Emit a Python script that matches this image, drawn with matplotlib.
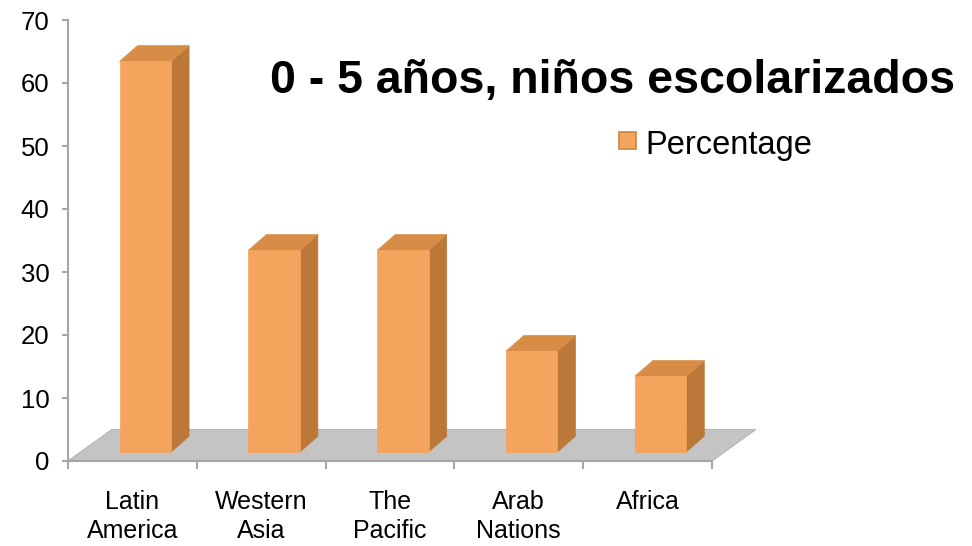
"""
Pseudo-3D column chart: share of children aged 0-5 in school, by region.
"""

import matplotlib
matplotlib.use("Agg")
import matplotlib.pyplot as plt
from matplotlib.patches import Polygon, Rectangle

# ---------------------------------------------------------------------------
# Data
# ---------------------------------------------------------------------------
regions = ["Latin\nAmerica", "Western\nAsia", "The\nPacific", "Arab\nNations", "Africa"]
percentage = [62, 32, 32, 16, 12]
y_ticks = [0, 10, 20, 30, 40, 50, 60, 70]
title = "0 - 5 años, niños escolarizados"
series_name = "Percentage"

# ---------------------------------------------------------------------------
# Style
# ---------------------------------------------------------------------------
FRONT = "#F4A45C"
SIDE = "#BC7839"
TOP = "#D88D47"
FLOOR = "#C4C4C4"
AXIS = "#A6A6A6"

# floor depth and bar geometry, in data units
FLOOR_DX, FLOOR_DY = 0.34, 5.0
BASE_DX, BASE_DY = 0.10, 1.43      # where bars stand on the floor
BAR_W = 0.40
BAR_DX, BAR_DY = 0.14, 2.5

plt.rcParams["font.family"] = ["Liberation Sans", "DejaVu Sans"]

fig = plt.figure(figsize=(9.72, 5.46), dpi=100)
ax = fig.add_axes([68 / 972, (546 - 461) / 546, 644 / 972, 441 / 546])
ax.set_xlim(0, len(regions))
ax.set_ylim(0, 70)

# floor
n = len(regions)
floor = Polygon([(0, 0), (n, 0), (n + FLOOR_DX, FLOOR_DY), (FLOOR_DX, FLOOR_DY)],
                closed=True, facecolor=FLOOR, edgecolor="#B4B4B4", lw=0.8,
                clip_on=False, zorder=1)
ax.add_patch(floor)

# bars, drawn as three faces each
for i, v in enumerate(percentage):
    x0 = i + 0.5 - BAR_W / 2 + BASE_DX
    x1 = x0 + BAR_W
    y0 = BASE_DY
    y1 = BASE_DY + v
    side = [(x1, y0), (x1 + BAR_DX, y0 + BAR_DY), (x1 + BAR_DX, y1 + BAR_DY), (x1, y1)]
    top = [(x0, y1), (x1, y1), (x1 + BAR_DX, y1 + BAR_DY), (x0 + BAR_DX, y1 + BAR_DY)]
    front = [(x0, y0), (x1, y0), (x1, y1), (x0, y1)]
    for pts, col in ((side, SIDE), (top, TOP), (front, FRONT)):
        ax.add_patch(Polygon(pts, closed=True, facecolor=col, edgecolor=col,
                             lw=0.5, clip_on=False, zorder=2 + i))

# axes styling
for s in ("top", "right"):
    ax.spines[s].set_visible(False)
for s in ("left", "bottom"):
    ax.spines[s].set_color(AXIS)
    ax.spines[s].set_linewidth(1.5)

ax.set_yticks(y_ticks)
ax.tick_params(axis="y", length=4.5, width=1.5, color=AXIS, pad=9, labelsize=18.5)

centers = [i + 0.5 for i in range(n)]
ax.set_xticks(centers)
ax.set_xticklabels(regions, fontsize=18, linespacing=1.25)
ax.set_xticks(range(n + 1), minor=True)
ax.tick_params(axis="x", which="major", length=0, pad=21)
ax.tick_params(axis="x", which="minor", length=5.5, width=1.5, color=AXIS)

# title and legend
fig.text(270 / 972, 1 - 93 / 546, title, fontsize=33.5, fontweight="bold",
         ha="left", va="baseline")
fig.patches.append(Rectangle((619 / 972, 1 - 149 / 546), 17 / 972, 17 / 546,
                             transform=fig.transFigure, facecolor=FRONT,
                             edgecolor="#C98640", lw=1.2))
fig.text(645 / 972, 1 - 154 / 546, series_name, fontsize=23.5,
         ha="left", va="baseline")

fig.savefig("out.png", dpi=100)
